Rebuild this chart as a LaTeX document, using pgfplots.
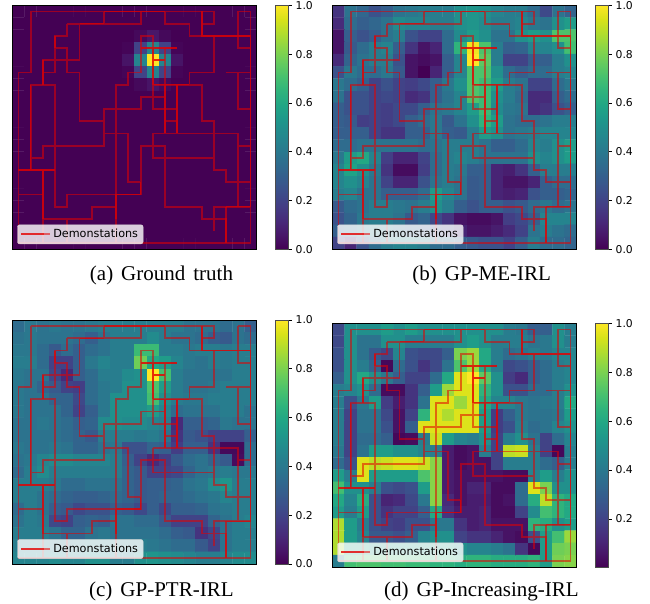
\documentclass[border=0pt]{standalone}
\usepackage{fontspec}
\setmainfont{Liberation Serif}
\newfontfamily\dv{DejaVu Sans}
\usepackage{pgfplots}
\usepackage{pgfplotstable}
\pgfplotsset{compat=1.18}
\pgfplotstableread[row sep=\\]{
x y\\
1 0\\16 0\\16 1\\15 1\\nan nan\\
15 0\\15 2\\19 2\\19 19\\0 19\\0 5\\1 5\\1 0\\nan nan\\
18 0\\19 0\\19 2\\nan nan\\
18 0\\18 3\\19 3\\nan nan\\
4 1\\10 1\\10 0\\nan nan\\
7 1\\7 0\\nan nan\\
12 0\\12 1\\14 1\\14 2\\15 2\\nan nan\\
5 1\\5 4\\2 4\\2 6\\nan nan\\
4 1\\4 2\\3 2\\3 5\\2 5\\nan nan\\
3 3\\4 3\\4 5\\5 5\\5 9\\7 9\\7 10\\9 10\\9 14\\10 14\\10 15\\4 15\\4 16\\3 16\\3 6\\1 6\\1 13\\0 13\\nan nan\\
7 10\\7 11\\2 11\\2 12\\1 12\\nan nan\\
0 13\\3 13\\nan nan\\
2 13\\2 17\\6 17\\6 16\\8 16\\nan nan\\
0 15\\2 15\\nan nan\\
8 19\\8 6\\9 6\\9 5\\10 5\\10 2\\11 2\\11 8\\13 8\\nan nan\\
10 3\\13 3\\nan nan\\
11 4\\12 4\\nan nan\\
12 3\\12 10\\nan nan\\
12 7\\10 7\\10 8\\7 8\\7 10\\nan nan\\
11 6\\15 6\\15 9\\16 9\\16 12\\nan nan\\
13 6\\13 10\\nan nan\\
14 6\\14 5\\16 5\\16 2\\nan nan\\
12 9\\13 9\\nan nan\\
11 10\\18 10\\18 16\\nan nan\\
18 11\\19 11\\nan nan\\
11 10\\11 12\\16 12\\16 13\\17 13\\17 14\\19 14\\nan nan\\
10 15\\10 11\\12 11\\12 16\\15 16\\15 17\\17 17\\17 19\\nan nan\\
16 18\\16 16\\19 16\\nan nan\\
17 5\\19 5\\nan nan\\
18 5\\18 8\\19 8\\nan nan\\
4 17\\4 19\\nan nan\\
2 17\\2 19\\nan nan\\
}\traj
\pgfplotstableread[row sep=\\]{
x y\\
15 0\\15 2\\19 2\\19 16\\nan nan\\
7 0\\12 0\\nan nan\\
5 1\\7 1\\nan nan\\
3 2\\3 3\\nan nan\\
2 4\\2 6\\nan nan\\
1 6\\1 13\\nan nan\\
0 13\\3 13\\nan nan\\
2 13\\2 17\\nan nan\\
8 15\\10 15\\10 14\\nan nan\\
8 15\\8 17\\nan nan\\
11 3\\11 6\\nan nan\\
10 3\\13 3\\nan nan\\
11 4\\12 4\\nan nan\\
12 6\\12 10\\nan nan\\
13 6\\13 10\\nan nan\\
11 6\\14 6\\nan nan\\
17 16\\19 16\\nan nan\\
17 16\\17 19\\nan nan\\
}\trajh
\pgfplotstableread[row sep=\\,header=false]{
0\\0\\0\\0\\0\\0\\0\\0\\0\\0\\0\\0\\0\\0\\0\\0\\0\\0\\0\\0\\
0\\0\\0\\0\\0\\0\\0\\0\\0\\0\\0\\0\\0\\0\\0\\0\\0\\0\\0\\0\\
0\\0\\0\\0\\0\\0\\0\\0\\0\\0\\0.02\\0.06\\0.02\\0\\0\\0\\0\\0\\0\\0\\
0\\0\\0\\0\\0\\0\\0\\0\\0\\0.01\\0.2\\0.45\\0.2\\0.01\\0\\0\\0\\0\\0\\0\\
0\\0\\0\\0\\0\\0\\0\\0\\0\\0.05\\0.45\\1\\0.45\\0.05\\0\\0\\0\\0\\0\\0\\
0\\0\\0\\0\\0\\0\\0\\0\\0\\0.01\\0.2\\0.45\\0.2\\0.01\\0\\0\\0\\0\\0\\0\\
0\\0\\0\\0\\0\\0\\0\\0\\0\\0\\0.02\\0.05\\0.02\\0\\0\\0\\0\\0\\0\\0\\
0\\0\\0\\0\\0\\0\\0\\0\\0\\0\\0\\0\\0\\0\\0\\0\\0\\0\\0\\0\\
0\\0\\0\\0\\0\\0\\0\\0\\0\\0\\0\\0\\0\\0\\0\\0\\0\\0\\0\\0\\
0\\0\\0\\0\\0\\0\\0\\0\\0\\0\\0\\0\\0\\0\\0\\0\\0\\0\\0\\0\\
0\\0\\0\\0\\0\\0\\0\\0\\0\\0\\0\\0\\0\\0\\0\\0\\0\\0\\0\\0\\
0\\0\\0\\0\\0\\0\\0\\0\\0\\0\\0\\0\\0\\0\\0\\0\\0\\0\\0\\0\\
0\\0\\0\\0\\0\\0\\0\\0\\0\\0\\0\\0\\0\\0\\0\\0\\0\\0\\0\\0\\
0\\0\\0\\0\\0\\0\\0\\0\\0\\0\\0\\0\\0\\0\\0\\0\\0\\0\\0\\0\\
0\\0\\0\\0\\0\\0\\0\\0\\0\\0\\0\\0\\0\\0\\0\\0\\0\\0\\0\\0\\
0\\0\\0\\0\\0\\0\\0\\0\\0\\0\\0\\0\\0\\0\\0\\0\\0\\0\\0\\0\\
0\\0\\0\\0\\0\\0\\0\\0\\0\\0\\0\\0\\0\\0\\0\\0\\0\\0\\0\\0\\
0\\0\\0\\0\\0\\0\\0\\0\\0\\0\\0\\0\\0\\0\\0\\0\\0\\0\\0\\0\\
0\\0\\0\\0\\0\\0\\0\\0\\0\\0\\0\\0\\0\\0\\0\\0\\0\\0\\0\\0\\
0\\0\\0\\0\\0\\0\\0\\0\\0\\0\\0\\0\\0\\0\\0\\0\\0\\0\\0\\0\\
}\gridA
\pgfplotstableread[row sep=\\,header=false]{
0.15\\0.38\\0.33\\0.25\\0.3\\0.38\\0.4\\0.42\\0.42\\0.42\\0.5\\0.52\\0.5\\0.45\\0.42\\0.42\\0.35\\0.22\\0.38\\0.32\\
0.12\\0.35\\0.3\\0.33\\0.38\\0.48\\0.45\\0.45\\0.42\\0.42\\0.5\\0.52\\0.48\\0.42\\0.42\\0.45\\0.4\\0.38\\0.5\\0.55\\
0.05\\0.3\\0.25\\0.3\\0.38\\0.42\\0.25\\0.2\\0.2\\0.35\\0.48\\0.55\\0.5\\0.38\\0.38\\0.5\\0.55\\0.5\\0.72\\0.72\\
0.05\\0.28\\0.35\\0.42\\0.45\\0.3\\0.15\\0.05\\0.1\\0.35\\0.65\\0.98\\0.72\\0.42\\0.3\\0.32\\0.45\\0.45\\0.5\\0.7\\
0.12\\0.32\\0.38\\0.42\\0.42\\0.25\\0.05\\0.03\\0.05\\0.3\\0.45\\1\\0.75\\0.42\\0.2\\0.2\\0.3\\0.3\\0.42\\0.5\\
0.25\\0.4\\0.35\\0.35\\0.4\\0.28\\0.05\\0\\0.1\\0.3\\0.45\\0.72\\0.72\\0.5\\0.35\\0.3\\0.35\\0.35\\0.42\\0.45\\
0.4\\0.35\\0.3\\0.2\\0.25\\0.2\\0.18\\0.22\\0.3\\0.4\\0.5\\0.72\\0.68\\0.55\\0.42\\0.38\\0.2\\0.2\\0.35\\0.4\\
0.38\\0.25\\0.25\\0.2\\0.22\\0.2\\0.12\\0.15\\0.3\\0.38\\0.45\\0.72\\0.68\\0.5\\0.42\\0.35\\0.12\\0.12\\0.3\\0.35\\
0.3\\0.25\\0.25\\0.2\\0.18\\0.22\\0.22\\0.3\\0.38\\0.4\\0.45\\0.55\\0.68\\0.48\\0.4\\0.38\\0.12\\0.15\\0.25\\0.3\\
0.3\\0.28\\0.18\\0.2\\0.18\\0.22\\0.3\\0.35\\0.4\\0.28\\0.38\\0.5\\0.65\\0.55\\0.38\\0.35\\0.35\\0.38\\0.42\\0.42\\
0.3\\0.3\\0.3\\0.2\\0.15\\0.15\\0.3\\0.3\\0.4\\0.3\\0.28\\0.42\\0.55\\0.5\\0.38\\0.4\\0.42\\0.45\\0.45\\0.45\\
0.35\\0.35\\0.38\\0.38\\0.38\\0.38\\0.38\\0.35\\0.38\\0.42\\0.42\\0.42\\0.38\\0.3\\0.3\\0.35\\0.45\\0.42\\0.5\\0.55\\
0.4\\0.55\\0.6\\0.45\\0.18\\0.1\\0.1\\0.2\\0.35\\0.42\\0.45\\0.42\\0.38\\0.38\\0.38\\0.38\\0.5\\0.45\\0.5\\0.55\\
0.45\\0.58\\0.5\\0.4\\0.15\\0.03\\0.03\\0.18\\0.35\\0.42\\0.4\\0.3\\0.3\\0.1\\0.08\\0.15\\0.3\\0.42\\0.42\\0.42\\
0.45\\0.5\\0.45\\0.38\\0.2\\0.1\\0.1\\0.25\\0.38\\0.42\\0.38\\0.28\\0.3\\0.1\\0.05\\0.05\\0.1\\0.3\\0.35\\0.35\\
0.42\\0.45\\0.38\\0.38\\0.3\\0.3\\0.3\\0.35\\0.55\\0.45\\0.38\\0.28\\0.3\\0.1\\0.08\\0.1\\0.25\\0.3\\0.3\\0.32\\
0.28\\0.35\\0.38\\0.42\\0.42\\0.4\\0.38\\0.42\\0.5\\0.42\\0.3\\0.25\\0.3\\0.3\\0.25\\0.28\\0.35\\0.4\\0.35\\0.38\\
0.25\\0.32\\0.4\\0.42\\0.42\\0.38\\0.28\\0.32\\0.22\\0.15\\0.05\\0.03\\0.03\\0.05\\0.18\\0.22\\0.3\\0.45\\0.45\\0.45\\
0.3\\0.35\\0.4\\0.42\\0.4\\0.35\\0.3\\0.28\\0.22\\0.18\\0.1\\0.05\\0.05\\0.08\\0.12\\0.2\\0.38\\0.42\\0.38\\0.35\\
0.2\\0.1\\0.25\\0.35\\0.42\\0.45\\0.45\\0.42\\0.35\\0.35\\0.3\\0.28\\0.25\\0.25\\0.2\\0.3\\0.42\\0.35\\0.35\\0.32\\
}\gridB
\pgfplotstableread[row sep=\\,header=false]{
0.35\\0.4\\0.38\\0.4\\0.38\\0.38\\0.4\\0.42\\0.42\\0.42\\0.42\\0.42\\0.42\\0.42\\0.38\\0.38\\0.38\\0.35\\0.38\\0.3\\
0.38\\0.4\\0.38\\0.38\\0.38\\0.35\\0.3\\0.38\\0.42\\0.42\\0.42\\0.48\\0.42\\0.38\\0.38\\0.35\\0.3\\0.28\\0.38\\0.35\\
0.4\\0.4\\0.35\\0.28\\0.35\\0.3\\0.35\\0.38\\0.42\\0.42\\0.68\\0.68\\0.42\\0.42\\0.4\\0.42\\0.42\\0.4\\0.42\\0.42\\
0.42\\0.42\\0.35\\0.2\\0.2\\0.3\\0.4\\0.45\\0.42\\0.42\\0.78\\0.6\\0.55\\0.45\\0.4\\0.38\\0.42\\0.4\\0.42\\0.42\\
0.4\\0.38\\0.38\\0.22\\0.12\\0.3\\0.35\\0.42\\0.42\\0.48\\0.5\\1\\0.7\\0.42\\0.38\\0.38\\0.38\\0.38\\0.42\\0.42\\
0.4\\0.38\\0.32\\0.28\\0.2\\0.18\\0.35\\0.4\\0.42\\0.5\\0.5\\0.72\\0.55\\0.42\\0.38\\0.38\\0.4\\0.42\\0.42\\0.42\\
0.4\\0.38\\0.38\\0.32\\0.32\\0.22\\0.35\\0.4\\0.5\\0.5\\0.5\\0.7\\0.5\\0.42\\0.4\\0.4\\0.42\\0.42\\0.42\\0.42\\
0.4\\0.38\\0.38\\0.38\\0.32\\0.2\\0.3\\0.4\\0.5\\0.5\\0.5\\0.55\\0.45\\0.35\\0.38\\0.38\\0.38\\0.42\\0.42\\0.38\\
0.38\\0.38\\0.4\\0.38\\0.35\\0.3\\0.32\\0.48\\0.5\\0.48\\0.48\\0.45\\0.42\\0.12\\0.3\\0.3\\0.32\\0.4\\0.38\\0.38\\
0.38\\0.38\\0.38\\0.38\\0.35\\0.32\\0.28\\0.42\\0.42\\0.42\\0.4\\0.42\\0.38\\0.15\\0.28\\0.25\\0.2\\0.2\\0.2\\0.3\\
0.4\\0.38\\0.38\\0.4\\0.38\\0.32\\0.32\\0.38\\0.4\\0.25\\0.25\\0.32\\0.3\\0.18\\0.3\\0.3\\0.15\\0.02\\0.02\\0.35\\
0.38\\0.4\\0.45\\0.48\\0.48\\0.45\\0.45\\0.45\\0.42\\0.3\\0.2\\0.12\\0.18\\0.28\\0.35\\0.38\\0.32\\0.28\\0.03\\0.35\\
0.35\\0.42\\0.48\\0.42\\0.42\\0.42\\0.42\\0.42\\0.42\\0.32\\0.28\\0.2\\0.2\\0.22\\0.32\\0.38\\0.4\\0.42\\0.4\\0.4\\
0.42\\0.42\\0.42\\0.4\\0.35\\0.35\\0.38\\0.38\\0.38\\0.32\\0.28\\0.3\\0.3\\0.32\\0.38\\0.4\\0.48\\0.52\\0.42\\0.42\\
0.42\\0.42\\0.38\\0.35\\0.32\\0.3\\0.3\\0.32\\0.35\\0.32\\0.28\\0.3\\0.32\\0.32\\0.35\\0.38\\0.4\\0.45\\0.42\\0.42\\
0.35\\0.42\\0.38\\0.3\\0.28\\0.22\\0.25\\0.25\\0.3\\0.28\\0.22\\0.3\\0.22\\0.3\\0.3\\0.32\\0.38\\0.4\\0.42\\0.42\\
0.38\\0.42\\0.4\\0.22\\0.2\\0.3\\0.32\\0.3\\0.38\\0.38\\0.35\\0.35\\0.28\\0.2\\0.2\\0.2\\0.32\\0.38\\0.42\\0.45\\
0.42\\0.42\\0.42\\0.38\\0.32\\0.32\\0.38\\0.4\\0.38\\0.38\\0.38\\0.38\\0.35\\0.3\\0.28\\0.15\\0.22\\0.38\\0.42\\0.42\\
0.42\\0.42\\0.42\\0.4\\0.4\\0.42\\0.45\\0.45\\0.42\\0.42\\0.42\\0.4\\0.38\\0.35\\0.35\\0.28\\0.2\\0.38\\0.42\\0.42\\
0.45\\0.45\\0.45\\0.48\\0.45\\0.45\\0.5\\0.5\\0.42\\0.42\\0.5\\0.52\\0.5\\0.48\\0.45\\0.42\\0.42\\0.45\\0.48\\0.48\\
}\gridC
\pgfplotstableread[row sep=\\,header=false]{
0.22\\0.5\\0.5\\0.5\\0.55\\0.5\\0.55\\0.5\\0.5\\0.5\\0.5\\0.5\\0.5\\0.5\\0.42\\0.4\\0.3\\0.3\\0.5\\0.42\\
0.22\\0.5\\0.38\\0.38\\0.5\\0.5\\0.42\\0.42\\0.42\\0.42\\0.5\\0.55\\0.5\\0.42\\0.42\\0.42\\0.38\\0.4\\0.5\\0.42\\
0.25\\0.5\\0.38\\0.28\\0.22\\0.45\\0.25\\0.22\\0.22\\0.3\\0.8\\0.85\\0.6\\0.42\\0.35\\0.38\\0.42\\0.4\\0.45\\0.45\\
0.25\\0.5\\0.42\\0.32\\0.02\\0.35\\0.25\\0.15\\0.22\\0.38\\0.72\\0.85\\0.6\\0.42\\0.22\\0.25\\0.3\\0.35\\0.42\\0.45\\
0.3\\0.5\\0.6\\0.5\\0.4\\0.3\\0.2\\0.2\\0.35\\0.6\\0.95\\1\\0.75\\0.5\\0.18\\0.12\\0.3\\0.35\\0.42\\0.45\\
0.42\\0.45\\0.5\\0.35\\0.03\\0.03\\0.15\\0.3\\0.55\\0.85\\0.95\\0.95\\0.65\\0.5\\0.25\\0.25\\0.35\\0.35\\0.42\\0.5\\
0.42\\0.25\\0.4\\0.55\\0.18\\0.08\\0.15\\0.38\\0.95\\0.95\\0.85\\0.95\\0.6\\0.45\\0.45\\0.4\\0.38\\0.4\\0.42\\0.6\\
0.42\\0.2\\0.38\\0.38\\0.22\\0.05\\0.2\\0.65\\0.95\\0.88\\0.95\\0.95\\0.55\\0.18\\0.3\\0.4\\0.38\\0.38\\0.4\\0.55\\
0.42\\0.2\\0.38\\0.38\\0.25\\0.05\\0.3\\0.95\\0.95\\0.95\\0.95\\0.95\\0.55\\0.18\\0.25\\0.42\\0.35\\0.38\\0.45\\0.5\\
0.42\\0.2\\0.35\\0.35\\0.3\\0.02\\0.03\\0.42\\0.92\\0.55\\0.45\\0.42\\0.5\\0.2\\0.42\\0.5\\0.38\\0.2\\0.35\\0.45\\
0.4\\0.2\\0.38\\0.55\\0.55\\0.5\\0.5\\0.45\\0.42\\0.08\\0.03\\0.05\\0.42\\0.2\\0.9\\0.92\\0.42\\0.2\\0.02\\0.42\\
0.35\\0.25\\0.95\\0.9\\0.92\\0.95\\0.95\\0.92\\0.82\\0.08\\0.03\\0.05\\0.05\\0.2\\0.42\\0.42\\0.42\\0.35\\0.3\\0.42\\
0.55\\0.42\\0.95\\0.55\\0.55\\0.55\\0.55\\0.72\\0.82\\0.08\\0.05\\0.05\\0.05\\0.05\\0.03\\0.03\\0.45\\0.55\\0.42\\0.5\\
0.7\\0.5\\0.5\\0.42\\0.25\\0.22\\0.25\\0.55\\0.82\\0.08\\0.05\\0.1\\0.1\\0.03\\0.03\\0.35\\0.95\\0.8\\0.5\\0.5\\
0.6\\0.45\\0.62\\0.25\\0.1\\0.12\\0.22\\0.4\\0.82\\0.12\\0.05\\0.08\\0.08\\0.03\\0.05\\0.35\\0.62\\0.9\\0.65\\0.6\\
0.55\\0.42\\0.55\\0.25\\0.15\\0.2\\0.2\\0.3\\0.6\\0.15\\0.08\\0.08\\0.1\\0.03\\0.03\\0.2\\0.48\\0.7\\0.65\\0.6\\
0.88\\0.55\\0.42\\0.25\\0.2\\0.18\\0.25\\0.25\\0.4\\0.4\\0.15\\0.08\\0.1\\0.05\\0.05\\0.05\\0.65\\0.62\\0.5\\0.55\\
0.88\\0.55\\0.45\\0.28\\0.28\\0.25\\0.3\\0.45\\0.5\\0.5\\0.2\\0.15\\0.15\\0.1\\0.05\\0.03\\0.25\\0.55\\0.7\\0.85\\
0.88\\0.6\\0.6\\0.55\\0.55\\0.55\\0.55\\0.55\\0.55\\0.55\\0.5\\0.45\\0.45\\0.42\\0.38\\0.15\\0.02\\0.55\\0.78\\0.8\\
0.42\\0.7\\0.72\\0.72\\0.7\\0.7\\0.68\\0.68\\0.65\\0.65\\0.62\\0.65\\0.65\\0.62\\0.62\\0.62\\0.65\\0.55\\0.8\\0.82\\
}\gridD
\newcommand{\tickfont}{\dv\fontsize{10.8}{12}\selectfont}
\newcommand{\legfont}{\dv\fontsize{11.2}{12}\selectfont}
\pgfplotsset{
  panel/.style={
    scale only axis, width=244.4pt, height=244pt,
    xmin=-0.5, xmax=19.5, ymin=-0.5, ymax=19.5, y dir=reverse,
    xtick=\empty, ytick=\empty, axis on top, axis line style={line width=0.8pt},
    colormap/viridis, point meta min=0, point meta max=1,
    unbounded coords=jump,
    legend style={at={(0.0205,0.0215)}, anchor=south west, fill=white, fill opacity=0.8, text opacity=1,
      draw=black!15, rounded corners=2pt, font=\legfont, inner xsep=3pt, inner ysep=2.5pt, row sep=0pt},
    legend cell align=left,
    colorbar,
    colorbar style={
      at={(parent axis.north east)}, anchor=north west, xshift=10.4pt,
      width=12.3pt, height=244pt,
      ytick={0,0.2,0.4,0.6,0.8,1}, ytick pos=right, yticklabel pos=right,
      tick align=outside, major tick length=3.7pt, tick style={black, line width=0.7pt},
      axis line style={line width=0.7pt, black!70},
      /pgf/number format/assume math mode=true,
      /pgf/number format/fixed, /pgf/number format/fixed zerofill, /pgf/number format/precision=1,
      yticklabel style={font=\tickfont, xshift=0.5pt},
    },
  },
  traj line/.style={red!90!black, line width=1.8pt, opacity=0.55, line join=miter},
  traj heavy/.style={red!90!black, line width=1.6pt, opacity=0.6, forget plot},
  /pgfplots/legend image code/.code={\draw[red!90!black, opacity=0.55, line width=1.8pt] (0pt,0pt) -- (23pt,0pt); \path (0pt,0pt) -- (29pt,0pt);},
}
\newcommand{\heat}[1]{\addplot[matrix plot*, mesh/cols=20, point meta=explicit, forget plot]
  table[x index=0, y index=0, x expr={\coordindex-20*floor((\coordindex+0.5)/20)}, y expr={floor((\coordindex+0.5)/20)}, meta index=0] {#1};}
\newcommand{\lines}{\addplot[traj line] table[x=x,y=y] {\traj};
  \addlegendentry{Demonstations}
  \addplot[traj heavy] table[x=x,y=y] {\trajh};}
\begin{document}
\begin{tikzpicture}[x=1pt,y=1pt]
\useasboundingbox (0,0) rectangle (650,603);
\begin{axis}[panel, at={(12.3pt,353.7pt)}, anchor=south west]
\heat{\gridA}\lines
\end{axis}
\begin{axis}[panel, at={(332.3pt,353.7pt)}, anchor=south west]
\heat{\gridB}\lines
\end{axis}
\begin{axis}[panel, at={(12.3pt,39pt)}, anchor=south west]
\heat{\gridC}\lines
\end{axis}
\begin{axis}[panel, at={(332.3pt,35.7pt)}, anchor=south west, point meta min=0.002,
  colorbar style={ytick={0.2,0.4,0.6,0.8,1}}]
\heat{\gridD}\lines
\end{axis}
\newcommand{\capt}[1]{\fontsize{21}{24}\selectfont\spaceskip=8pt #1}
\node[anchor=base, inner sep=0pt] at (161.5,322) {\capt{(a) Ground truth}};
\node[anchor=base, inner sep=0pt] at (481.7,322) {\capt{(b) GP-ME-IRL}};
\node[anchor=base, inner sep=0pt] at (161.4,6.5) {\capt{(c) GP-PTR-IRL}};
\node[anchor=base, inner sep=0pt] at (481.5,6.5) {\capt{(d) GP-Increasing-IRL}};
\end{tikzpicture}
\end{document}
